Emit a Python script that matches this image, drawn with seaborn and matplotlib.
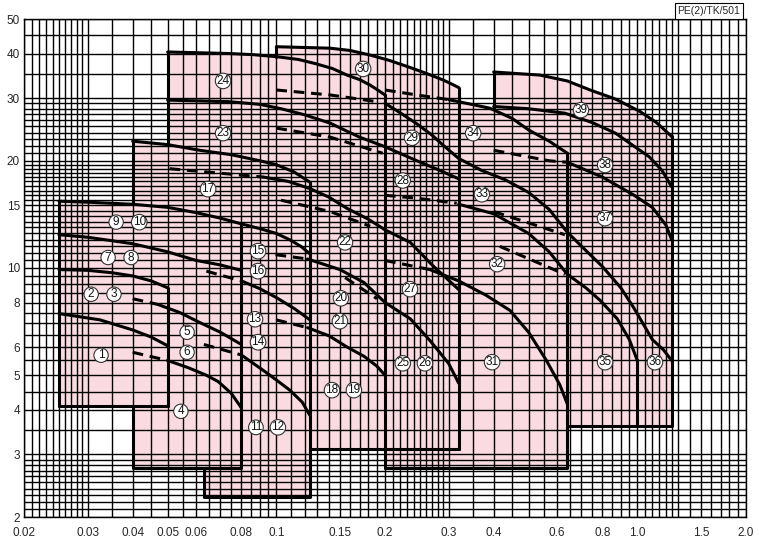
import numpy as np
import pandas as pd
import seaborn as sns
import matplotlib.pyplot as plt

sns.set_theme(style='white')
plt.rcParams['font.family'] = ['Liberation Sans', 'DejaVu Sans']

# tick labels
x_ticks = [0.02, 0.03, 0.04, 0.05, 0.06, 0.08, 0.1, 0.15, 0.2, 0.3, 0.4, 0.6, 0.8, 1.0, 1.5, 2.0]
x_tick_labels = ['0.02', '0.03', '0.04', '0.05', '0.06', '0.08', '0.1', '0.15', '0.2', '0.3',
                 '0.4', '0.6', '0.8', '1.0', '1.5', '2.0']
y_ticks = [2, 3, 4, 5, 6, 8, 10, 15, 20, 30, 40, 50]
y_tick_labels = ['2', '3', '4', '5', '6', '8', '10', '15', '20', '30', '40', '50']

# chart paper grid
grid_x = np.concatenate([np.arange(0.020, 0.0305, 0.001), np.arange(0.035, 0.1005, 0.005),
                         np.arange(0.11, 0.305, 0.01), np.arange(0.35, 1.305, 0.05),
                         np.arange(1.4, 2.05, 0.1)])
grid_y = np.concatenate([np.arange(2.0, 3.05, 0.1), np.arange(3.5, 5.05, 0.5),
                         np.arange(5.5, 10.05, 0.5), np.arange(10.5, 20.05, 0.5),
                         np.arange(21, 30.5, 1), np.arange(35, 50.5, 5)])

# solid head curves
s1 = [(0.025, 15.4), (0.03, 15.3), (0.04, 15.1), (0.05, 14.8), (0.06, 14.3), (0.07, 13.8), (0.08, 13.3),
      (0.09, 12.9), (0.1, 12.5), (0.109, 12.0), (0.117, 11.5), (0.124, 10.95)]
s2 = [(0.025, 12.4), (0.03, 12.2), (0.04, 11.7), (0.05, 11.1), (0.06, 10.5), (0.07, 10.2), (0.08, 9.85)]
s3 = [(0.08, 9.2), (0.09, 8.75), (0.1, 8.26), (0.112, 7.7), (0.124, 7.15)]
s4 = [(0.025, 9.9), (0.03, 9.85), (0.035, 9.7), (0.04, 9.5), (0.045, 9.2), (0.05, 8.8)]
s5 = [(0.047, 7.9), (0.054, 7.5), (0.061, 7.05), (0.07, 6.6), (0.08, 6.1)]
s6 = [(0.025, 7.45), (0.0325, 7.15), (0.04, 6.7), (0.045, 6.4), (0.05, 6.05)]
s7 = [(0.05, 5.5), (0.057, 5.25), (0.064, 5.0), (0.069, 4.8), (0.075, 4.45), (0.08, 4.05)]
s8 = [(0.08, 5.7), (0.092, 5.16), (0.1, 4.85), (0.109, 4.54), (0.118, 4.2), (0.124, 3.85)]
s9 = [(0.04, 22.7), (0.05, 22.2), (0.0614, 21.4), (0.075, 20.8), (0.09, 20.0), (0.1, 19.5),
      (0.112, 18.6), (0.124, 17.4)]
s10 = [(0.05, 40.4), (0.074, 40.0), (0.0865, 39.7), (0.1, 39.2), (0.115, 38.5), (0.128, 37.5),
       (0.143, 36.3), (0.157, 34.8), (0.17, 33.8), (0.182, 32.6), (0.19, 31.7), (0.2, 30.6)]
s11 = [(0.05, 29.6), (0.074, 29.3), (0.09, 28.8), (0.103, 28.0), (0.12, 26.9), (0.141, 25.5),
       (0.17, 23.3), (0.2, 21.9), (0.245, 20.0), (0.28, 18.9), (0.32, 17.8)]
s12 = [(0.092, 18.0), (0.108, 17.5), (0.124, 16.7), (0.14, 15.8), (0.157, 14.7), (0.18, 13.7), (0.2, 12.8)]
s13 = [(0.122, 10.6), (0.15, 9.9), (0.175, 9.1), (0.2, 8.0), (0.235, 7.2), (0.266, 6.27), (0.3, 5.4),
       (0.32, 4.75)]
s14 = [(0.122, 6.8), (0.14, 6.45), (0.157, 6.0), (0.175, 5.65), (0.19, 5.3), (0.2, 5.0)]
s15 = [(0.1, 41.8), (0.141, 41.4), (0.16, 40.8), (0.182, 39.6), (0.205, 38.3), (0.232, 36.7),
       (0.26, 35.2), (0.29, 33.7), (0.305, 32.9), (0.32, 32.1)]
s16 = [(0.2, 29.0), (0.22, 27.3), (0.245, 25.4), (0.27, 23.6), (0.29, 22.1), (0.32, 20.3), (0.37, 18.8),
       (0.43, 17.7), (0.5, 16.3), (0.57, 14.6), (0.64, 12.6), (0.72, 11.2), (0.8, 10.1), (0.9, 8.8),
       (0.98, 7.7), (1.1, 6.3), (1.18, 5.9), (1.245, 5.5)]
s17 = [(0.2, 12.8), (0.235, 11.8), (0.27, 10.2), (0.32, 8.7)]
s18 = [(0.266, 9.9), (0.32, 9.2), (0.38, 8.4), (0.444, 7.6), (0.5, 6.6), (0.56, 5.5), (0.61, 4.7),
       (0.64, 4.15)]
s19 = [(0.3, 29.7), (0.39, 28.1), (0.45, 26.3), (0.5, 24.4), (0.57, 22.7), (0.64, 21.0)]
s20 = [(0.32, 15.1), (0.4, 14.2), (0.5, 12.5), (0.57, 11.1), (0.64, 9.6), (0.72, 8.8), (0.79, 8.1),
       (0.88, 7.2), (0.95, 6.3), (1.0, 5.5)]
s21 = [(0.4, 35.5), (0.537, 34.8), (0.64, 33.5), (0.74, 31.6), (0.87, 29.8), (1.017, 27.5),
       (1.13, 25.6), (1.245, 23.4)]
s22 = [(0.4, 28.4), (0.5, 28.0), (0.63, 27.2), (0.75, 25.6), (0.87, 23.9), (1.08, 20.5),
       (1.17, 18.8), (1.245, 16.9)]
s23 = [(0.64, 19.8), (0.8, 18.0), (0.98, 16.0), (1.1, 14.8), (1.2, 13.2), (1.245, 12.0)]

# dashed lead-in curves
d1 = [(0.064, 9.8), (0.08, 9.2)]
d2 = [(0.04, 8.2), (0.047, 7.9)]
d3 = [(0.04, 5.8), (0.05, 5.5)]
d4 = [(0.063, 6.1), (0.08, 5.7)]
d5 = [(0.0506, 19.0), (0.092, 18.0)]
d6 = [(0.0995, 10.9), (0.122, 10.6)]
d7 = [(0.1, 7.15), (0.122, 6.8)]
d8 = [(0.103, 15.5), (0.141, 14.4), (0.182, 13.1)]
d9 = [(0.155, 9.4), (0.19, 8.2)]
d10 = [(0.1, 31.6), (0.141, 30.6), (0.19, 29.3)]
d11 = [(0.1, 24.7), (0.141, 23.3), (0.197, 21.0)]
d12 = [(0.2, 10.5), (0.266, 9.9)]
d13 = [(0.2, 16.0), (0.245, 15.7), (0.316, 15.2)]
d14 = [(0.2, 31.6), (0.245, 30.6), (0.3, 29.7)]
d15 = [(0.4, 21.4), (0.57, 20.0), (0.64, 19.8)]
d16 = [(0.4, 14.4), (0.63, 12.4)]
d17 = [(0.416, 11.5), (0.63, 9.6)]

# range borders
borders = [
    [(0.025, 4.1), (0.025, 15.4)],
    [(0.025, 4.1), (0.05, 4.1)],
    [(0.05, 4.1), (0.05, 8.8)],
    [(0.04, 4.1), (0.04, 2.75), (0.08, 2.75), (0.08, 13.3)],
    [(0.063, 2.75), (0.063, 2.27), (0.124, 2.27), (0.124, 17.4)],
    [(0.04, 15.1), (0.04, 22.7)],
    [(0.05, 22.3), (0.05, 40.4)],
    [(0.124, 3.1), (0.32, 3.1)],
    [(0.2, 2.75), (0.2, 30.6)],
    [(0.1, 39.2), (0.1, 41.8)],
    [(0.32, 3.1), (0.32, 32.1)],
    [(0.2, 2.75), (0.64, 2.75), (0.64, 21.0)],
    [(0.64, 3.6), (1.245, 3.6), (1.245, 23.4)],
    [(1.0, 3.6), (1.0, 5.5)],
    [(0.4, 28.2), (0.4, 35.5)],
]

# pink areas
fill_left = [(0.025, 4.1), (0.025, 15.4)] + s1[1:] + [(0.124, 2.27), (0.063, 2.27), (0.063, 2.75),
                                                     (0.04, 2.75), (0.04, 4.1)]
fill_17 = [(0.04, 12), (0.04, 22.7)] + s9[1:] + [(0.124, 12)]
fill_24 = [(0.05, 15), (0.05, 40.4)] + s10[1:] + [(0.2, 3.1), (0.124, 3.1), (0.124, 15)]
fill_30 = [(0.1, 30), (0.1, 41.8)] + s15[1:] + [(0.32, 2.75), (0.2, 2.75), (0.2, 30)]
fill_34 = [(0.32, 2.75), (0.32, 29.4)] + s19[1:] + [(0.64, 2.75)]
fill_39 = [(0.4, 20), (0.4, 35.5)] + s21[1:] + [(1.245, 3.6), (0.64, 3.6), (0.64, 20)]

labels = list(range(1, 40))
label_x = [0.0327, 0.0307, 0.0355, 0.0544, 0.0566, 0.0566, 0.0342, 0.0396, 0.036, 0.0417,
           0.0878, 0.101, 0.0873, 0.089, 0.089, 0.089, 0.0647, 0.1426, 0.164, 0.151,
           0.150, 0.155, 0.0712, 0.0712, 0.224, 0.258, 0.2346, 0.224, 0.2376, 0.174,
           0.396, 0.409, 0.371, 0.351, 0.814, 1.119, 0.814, 0.814, 0.698]
label_y = [5.69, 8.44, 8.44, 3.96, 6.6, 5.8, 10.7, 10.7, 13.45, 13.45,
           3.57, 3.57, 7.18, 6.19, 11.15, 9.8, 16.65, 4.54, 4.54, 8.22,
           7.09, 11.8, 23.9, 33.5, 5.4, 5.4, 8.72, 17.6, 23.2, 36.2,
           5.44, 10.25, 16.1, 23.9, 5.44, 5.44, 13.8, 19.45, 27.75]

fig = plt.figure(figsize=(7.59, 5.42), dpi=100)
ax = fig.add_axes([24 / 759, 25 / 542, 722 / 759, 498 / 542])
ax.set_xscale('log')
ax.set_yscale('log')
ax.set_xlim(0.02, 2.0)
ax.set_ylim(2, 50)

pink = '#fadbe2'
for poly in [fill_left, fill_17, fill_24, fill_30, fill_34, fill_39]:
    px, py = zip(*poly)
    ax.fill(px, py, color=pink, lw=0, zorder=1)

ax.vlines(grid_x, 2, 50, color='black', lw=1.0, zorder=2)
ax.hlines(grid_y, 0.02, 2.0, color='black', lw=1.0, zorder=2)


def draw(points, dashed=False):
    df = pd.DataFrame(points, columns=['q', 'h'])
    line = sns.lineplot(data=df, x='q', y='h', sort=False, estimator=None, color='black',
                        lw=2.2, ax=ax, zorder=3)
    line.lines[-1].set_solid_joinstyle('round')
    if dashed:
        line.lines[-1].set_dashes([3.5, 2.2])


for c in [s1, s2, s3, s4, s5, s6, s7, s8, s9, s10, s11, s12, s13, s14, s15, s16, s17, s18,
          s19, s20, s21, s22, s23]:
    draw(c)
for c in [d1, d2, d3, d4, d5, d6, d7, d8, d9, d10, d11, d12, d13, d14, d15, d16, d17]:
    draw(c, dashed=True)
for c in borders:
    draw(c)

for n, lx, ly in zip(labels, label_x, label_y):
    fam = ['Liberation Sans Narrow', 'Liberation Sans', 'DejaVu Sans'] if n > 9 else ['Liberation Sans', 'DejaVu Sans']
    ax.text(lx, ly, str(n), ha='center', va='center', fontsize=8.5, zorder=5, family=fam,
            color='#111111',
            bbox=dict(boxstyle='circle,pad=0.1', fc='white', ec='#333333', lw=0.8))

ax.set_xticks(x_ticks)
ax.set_xticklabels(x_tick_labels)
ax.set_yticks(y_ticks)
ax.set_yticklabels(y_tick_labels)
ax.minorticks_off()
ax.tick_params(axis='x', length=0, labelsize=8.5, pad=7)
ax.tick_params(axis='y', length=0, labelsize=8.5, pad=3)
ax.set_xlabel('')
ax.set_ylabel('')
for sp in ax.spines.values():
    sp.set_color('black')
    sp.set_linewidth(1.0)
    sp.set_zorder(4)

fig.text(709 / 759, 1 - 11 / 542, 'PE(2)/TK/501', ha='center', va='center', fontsize=7.5,
         bbox=dict(boxstyle='square,pad=0.25', fc='white', ec='black', lw=0.8))

fig.savefig('out.png', dpi=100)
